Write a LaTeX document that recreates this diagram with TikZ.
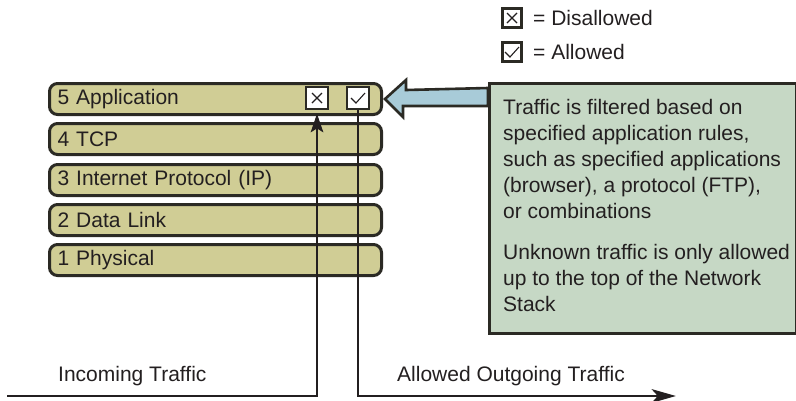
\documentclass[tikz,border=0pt]{standalone}
\usepackage{fontspec}
\setmainfont{Liberation Sans}
\usetikzlibrary{calc}
\definecolor{ink}{HTML}{231F20}
\definecolor{edge}{HTML}{2B2A24}
\definecolor{layerfill}{HTML}{D0CD95}
\definecolor{notefill}{HTML}{C6D8C5}
\definecolor{pointerfill}{HTML}{A8CBD8}
\begin{document}
\begin{tikzpicture}[x=1pt,y=1pt,
  font=\fontsize{21}{26}\selectfont, text=ink,
  layer/.style={draw=edge, fill=layerfill, line width=3pt, rounded corners=8pt,
    text width=316pt, inner xsep=8pt, inner ysep=0pt, minimum height=31pt,
    align=left, anchor=north west},
  tickbox/.style={draw=edge, fill=white, line width=2.6pt, minimum size=22pt, inner sep=0pt},
  crossbox/.style={tickbox, path picture={
    \draw[ink, line width=1.1pt]
      ([shift={(-5,-5)}]path picture bounding box.center) -- ([shift={(5,5)}]path picture bounding box.center)
      ([shift={(-5,5)}]path picture bounding box.center) -- ([shift={(5,-5)}]path picture bounding box.center);}},
  checkbox/.style={tickbox, path picture={
    \draw[ink, line width=1.1pt]
      ([shift={(-7,0)}]path picture bounding box.center) -- ([shift={(-2,-5)}]path picture bounding box.center)
      -- ([shift={(7,5)}]path picture bounding box.center);}},
  caption/.style={inner sep=0pt, anchor=west},
  flowline/.style={draw=ink, line width=2.8pt},
  head/.style={fill=ink, draw=ink, line width=1pt, line join=miter}
]
\useasboundingbox (0,0) rectangle (796,-400);

% legend
\node[crossbox, minimum size=19pt, line width=2.2pt] (legx) at (512,-18) {};
\node[caption] (legxt) at (533,-18) {= Disallowed};
\node[checkbox, minimum size=19pt, line width=2.2pt] (legc) at (512,-52) {};
\node[caption] (legct) at (533,-52) {= Allowed};

% protocol stack
\node[layer] (l5) at (48,-82)  {5 Application};
\node[layer] (l4) at (48,-122) {4 TCP};
\node[layer] (l3) at (48,-163) {3 Internet Protocol (IP)};
\node[layer] (l2) at (48,-203) {2 Data Link};
\node[layer] (l1) at (48,-243) {1 Physical};

% filter decisions at the application layer
\node[crossbox] (deny) at (317,-98) {};
\node[checkbox] (allow) at (358,-98) {};

% explanation box
\node[draw=edge, fill=notefill, line width=2.6pt, anchor=north west,
      minimum width=307pt, minimum height=250pt, inner sep=0pt] (note) at (488,-82) {};
\node[inner sep=0pt, anchor=north west, align=left] (notetext) at (503,-99)
  {Traffic is filtered based on\\
   specified application rules,\\
   such as specified applications\\
   (browser), a protocol (FTP),\\
   or combinations\\[15pt]
   Unknown traffic is only allowed\\
   up to the top of the Network\\
   Stack};

% block arrow from the note to the application layer
\draw[draw=edge, fill=pointerfill, line width=2.6pt, line join=miter]
  ($(l5.east)+(2,0)$) -- ++(21,19) -- ++(0,-10) -- (note.west |- 0,-88)
  -- (note.west |- 0,-106) -- (403,-106) -- ++(0,-11) -- cycle;

% traffic paths: incoming traffic stops below the disallowed box,
% allowed traffic leaves from the allowed box
\coordinate (inStart) at (7,-396);
\coordinate (inTip) at ($(deny.south)+(0,-5)$);
\coordinate (outEnd) at (674,-396);
\draw[flowline] (inStart) -| ($(inTip)+(0,-11)$);
\fill[head] (inTip) -- ++(-5.5,-16) -- ++(5.5,3.5) -- ++(5.5,-3.5) -- cycle;
\draw[flowline] (allow.south) |- ($(outEnd)+(-14,0)$);
\fill[head] (outEnd) -- ++(-21,6) -- ++(5.5,-6) -- ++(-5.5,-6) -- cycle;

\node[caption] (intext) at (58,-376) {Incoming Traffic};
\node[caption] (outtext) at (397,-376) {Allowed Outgoing Traffic};
\end{tikzpicture}
\end{document}
